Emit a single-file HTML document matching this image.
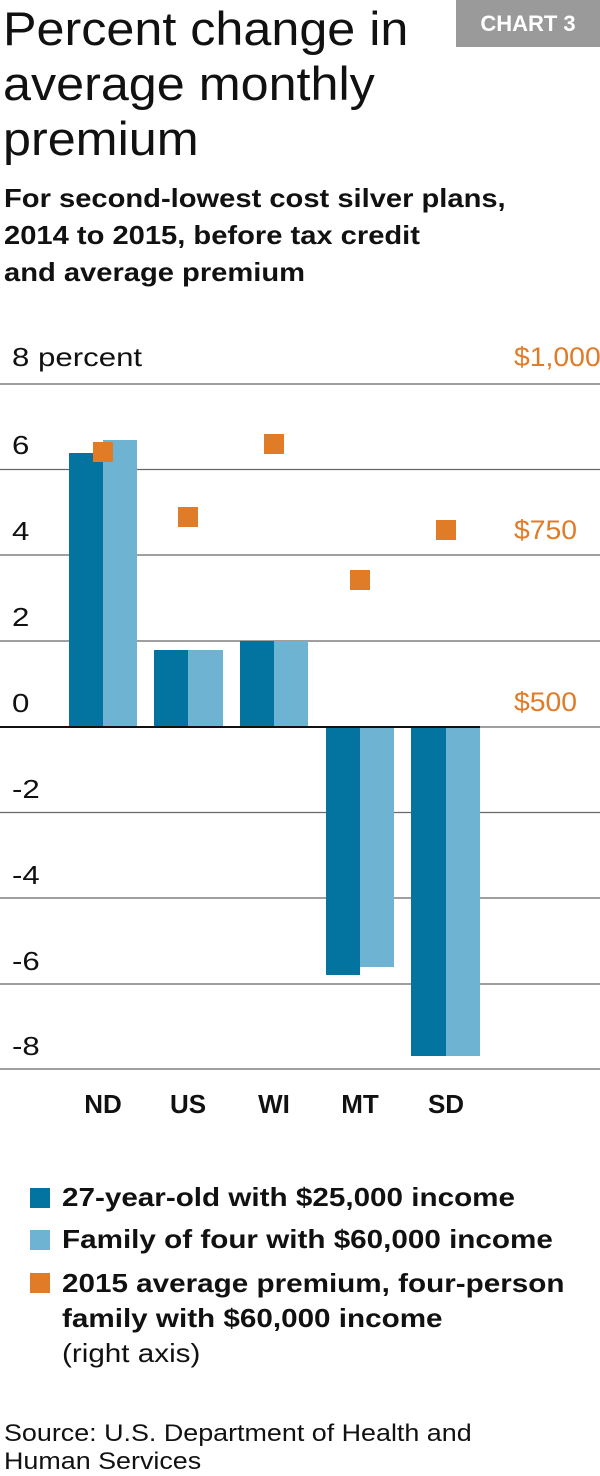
<!DOCTYPE html>
<html><head><meta charset="utf-8"><style>
body{margin:0;width:600px;height:1474px;background:#fff;position:relative;font-family:"Liberation Sans",sans-serif;color:#111;overflow:hidden}
.a{position:absolute;white-space:nowrap;transform-origin:0 0}
.t{font-size:47px;font-weight:300;line-height:55px;left:3px;top:1px;transform:scaleX(1.07)}
.s{font-size:26px;font-weight:bold;line-height:37px;left:4px;top:180px;transform:scaleX(1.12)}
.c{left:456px;top:0;width:144px;height:47px;background:#9a9a9a;color:#fff;font-weight:bold;font-size:22px;text-align:center;line-height:47px}
.yl{font-size:26px;left:12px;transform:scaleX(1.2)}
.yr{font-size:27px;left:514px;color:#e07b28;transform:scaleX(1.05)}
.x{font-size:26px;font-weight:bold;top:1089px;width:60px;text-align:center}
.lg{font-size:26px;font-weight:bold;left:62px;transform:scaleX(1.14)}
.sq{position:absolute;width:20px;height:20px;left:30px}
</style></head><body>
<div class="a t">Percent change in<br>average monthly<br>premium</div>
<div class="a c">CHART 3</div>
<div class="a s">For second-lowest cost silver plans,<br>2014 to 2015, before tax credit<br>and average premium</div>
<svg class="a" style="left:0;top:0" width="600" height="1474">
<g stroke="#666" stroke-width="1.3">
<line x1="0" x2="600" y1="384" y2="384"/><line x1="0" x2="600" y1="469.5" y2="469.5"/><line x1="0" x2="600" y1="555" y2="555"/><line x1="0" x2="600" y1="641" y2="641"/><line x1="0" x2="600" y1="727" y2="727"/><line x1="0" x2="600" y1="812.5" y2="812.5"/><line x1="0" x2="600" y1="898" y2="898"/><line x1="0" x2="600" y1="984" y2="984"/><line x1="0" x2="600" y1="1069" y2="1069"/>
</g>
<g fill="#02749f">
<rect x="69" y="453" width="34" height="274"/><rect x="154" y="650" width="34" height="77"/><rect x="240" y="641" width="34" height="86"/><rect x="326" y="727" width="34" height="248"/><rect x="411" y="727" width="35" height="329"/>
</g>
<g fill="#6fb3d3">
<rect x="103" y="440" width="34" height="287"/><rect x="188" y="650" width="35" height="77"/><rect x="274" y="641" width="34" height="86"/><rect x="360" y="727" width="34" height="240"/><rect x="446" y="727" width="34" height="329"/>
</g>
<line x1="0" x2="480" y1="727" y2="727" stroke="#111" stroke-width="2"/>
<g fill="#e07b28">
<rect x="93" y="442" width="20" height="20"/><rect x="178" y="507" width="20" height="20"/><rect x="264" y="434" width="20" height="20"/><rect x="350" y="570" width="20" height="20"/><rect x="436" y="520" width="20" height="20"/>
</g>
</svg>
<div class="a yl" style="top:342px">8 percent</div>
<div class="a yl" style="top:430px">6</div>
<div class="a yl" style="top:516px">4</div>
<div class="a yl" style="top:602px">2</div>
<div class="a yl" style="top:688px">0</div>
<div class="a yl" style="top:774px">-2</div>
<div class="a yl" style="top:860px">-4</div>
<div class="a yl" style="top:946px">-6</div>
<div class="a yl" style="top:1031px">-8</div>
<div class="a yr" style="top:342px">$1,000</div>
<div class="a yr" style="top:515px">$750</div>
<div class="a yr" style="top:687px">$500</div>
<div class="a x" style="left:73px">ND</div>
<div class="a x" style="left:158px">US</div>
<div class="a x" style="left:244px">WI</div>
<div class="a x" style="left:330px">MT</div>
<div class="a x" style="left:416px">SD</div>
<div class="sq" style="top:1188px;background:#02749f"></div>
<div class="sq" style="top:1230px;background:#6fb3d3"></div>
<div class="sq" style="top:1273px;background:#e07b28"></div>
<div class="a lg" style="top:1182px">27-year-old with $25,000 income</div>
<div class="a lg" style="top:1224px">Family of four with $60,000 income</div>
<div class="a lg" style="top:1266px;line-height:35px">2015 average premium, four-person<br>family with $60,000 income<br><span style="font-weight:300">(right axis)</span></div>
<div class="a" style="left:4px;top:1420px;font-size:24px;font-weight:300;line-height:28px;transform:scaleX(1.12)">Source: U.S. Department of Health and<br>Human Services</div>
</body></html>
